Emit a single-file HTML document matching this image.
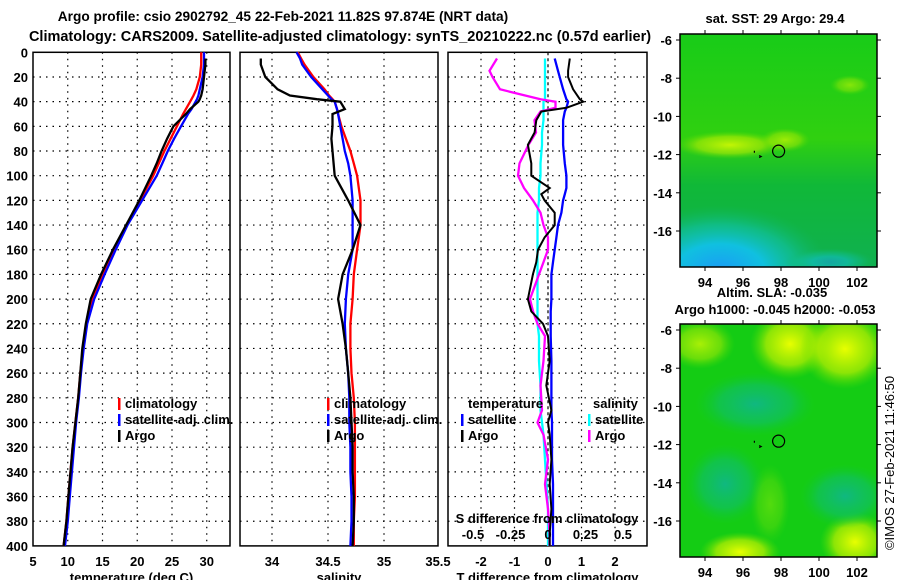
<!DOCTYPE html>
<html><head><meta charset="utf-8">
<style>
body{margin:0;background:#fff;}
svg text{font-family:"Liberation Sans",Arial,sans-serif;font-weight:bold;fill:#000;}
svg text.normal{font-weight:normal;}
</style></head>
<body>
<svg id="chart" width="900" height="580" viewBox="0 0 900 580" xmlns="http://www.w3.org/2000/svg">
<defs>
<radialGradient id="sstCyan" cx="0.5" cy="0.5" r="0.5">
<stop offset="0" stop-color="#1a9cf5"/><stop offset="0.4" stop-color="#10c0e0"/><stop offset="0.7" stop-color="#10c0a0" stop-opacity="0.7"/><stop offset="1" stop-color="#10b860" stop-opacity="0"/>
</radialGradient>
<linearGradient id="sstBase" x1="0" y1="0" x2="0" y2="1">
<stop offset="0" stop-color="#18cc18"/><stop offset="0.45" stop-color="#30d010"/><stop offset="0.65" stop-color="#10b838"/><stop offset="1" stop-color="#10b050"/>
</linearGradient>
<radialGradient id="yel" cx="0.5" cy="0.5" r="0.5"><stop offset="0" stop-color="#e8ff00"/><stop offset="0.6" stop-color="#c0f000" stop-opacity="0.7"/><stop offset="1" stop-color="#60e000" stop-opacity="0"/></radialGradient>
<radialGradient id="teal" cx="0.5" cy="0.5" r="0.5"><stop offset="0" stop-color="#10b880"/><stop offset="0.6" stop-color="#10c060" stop-opacity="0.7"/><stop offset="1" stop-color="#10c830" stop-opacity="0"/></radialGradient>
</defs>
<g id="root"></g>
</svg>
<script>
// ---- data ----
const depths = [0,5,10,20,30,35,38,40,46,50,60,70,80,90,100,120,140,160,180,200,220,240,260,280,300,320,340,360,380,400];
const tempArgo = [null,29.8,29.8,29.6,29.4,29.2,29.0,28.8,27.6,27.0,25.2,24.3,23.5,22.8,22.0,20.3,18.4,16.5,14.8,13.3,12.6,12.1,11.8,11.5,11.1,10.7,10.4,10.1,9.8,9.4];
const tempClim = [29.2,29.2,29.2,29.0,28.5,28.1,27.8,27.6,27.0,26.6,25.7,24.8,23.9,23.1,22.3,20.4,18.5,16.7,15.0,13.5,12.7,12.2,11.8,11.5,11.1,10.7,10.4,10.1,9.8,9.4];
const tempSat = [29.6,29.6,29.6,29.4,29.0,28.8,28.6,28.4,27.8,27.3,26.3,25.3,24.4,23.6,22.8,20.7,18.6,16.9,15.3,13.8,12.8,12.3,11.9,11.6,11.2,10.9,10.6,10.3,10.0,9.6];
const salArgo = [null,33.90,33.90,33.94,34.05,34.16,34.40,34.61,34.65,34.54,34.54,34.53,34.54,34.55,34.56,34.68,34.79,34.72,34.63,34.59,34.63,34.66,34.68,34.70,34.71,34.72,34.72,34.73,34.73,34.72];
const salClim = [34.23,34.26,34.29,34.37,34.47,34.51,34.54,34.56,34.58,34.59,34.62,34.66,34.70,34.73,34.76,34.79,34.79,34.76,34.73,34.72,34.70,34.70,34.71,34.73,34.74,34.74,34.74,34.74,34.73,34.73];
const salSat = [34.22,34.25,34.27,34.35,34.45,34.50,34.53,34.56,34.58,34.59,34.61,34.63,34.65,34.68,34.70,34.72,34.72,34.72,34.68,34.66,34.65,34.66,34.68,34.69,34.69,34.70,34.70,34.71,34.71,34.70];
const diffDepths = [5,15,20,30,38,40,45,48,55,65,75,90,100,110,115,120,130,140,150,160,170,180,200,210,220,230,250,270,290,300,310,330,350,370,390,400];
const dTArgo = [0.65,0.6,0.6,0.75,0.95,1.05,0.55,-0.2,-0.35,-0.4,-0.6,-0.5,-0.5,0.05,-0.2,-0.1,0.2,0.2,-0.1,-0.3,-0.35,-0.45,-0.6,-0.5,-0.15,0.0,0.05,-0.05,0.1,0.0,0.05,0.1,0.05,0.1,0.05,0.05];
const dTSat = [0.2,0.3,0.35,0.45,0.55,0.6,0.55,0.5,0.45,0.45,0.45,0.5,0.55,0.55,0.5,0.45,0.4,0.3,0.25,0.2,0.15,0.1,0.1,0.08,0.08,0.08,0.1,0.1,0.1,0.12,0.12,0.12,0.15,0.15,0.15,0.15];
const dSArgo = [-0.34,-0.39,-0.37,-0.32,-0.05,0.05,0.05,-0.05,-0.09,-0.08,-0.13,-0.19,-0.2,-0.16,-0.13,-0.1,-0.05,-0.03,0,0,-0.03,-0.06,-0.12,-0.1,-0.07,-0.02,-0.03,-0.05,-0.04,-0.07,-0.03,0,-0.02,0,0.01,0.01];
const dSSat = [-0.02,-0.02,-0.02,-0.02,-0.02,-0.03,-0.03,-0.03,-0.03,-0.04,-0.04,-0.05,-0.05,-0.06,-0.06,-0.06,-0.07,-0.07,-0.07,-0.07,-0.07,-0.07,-0.07,-0.07,-0.07,-0.06,-0.06,-0.05,-0.05,-0.04,-0.03,-0.02,-0.01,0,0,0];
const depthTicks = [0,20,40,60,80,100,120,140,160,180,200,220,240,260,280,300,320,340,360,380,400];
const tempTicks = [5,10,15,20,25,30];
const salTicks = [34,34.5,35,35.5];
const tdTicks = [-2,-1,0,1,2];
const sdTicks = [-0.5,-0.25,0,0.25,0.5];
const latTicks = [-6,-8,-10,-12,-14,-16];
const lonTicks = [94,96,98,100,102];
const argoLon = 97.874, argoLat = -11.82;

// ---- scales ----
const NS="http://www.w3.org/2000/svg";
const root=document.getElementById('root');
const yD=d=>52.3+d*1.234;
const xT=t=>33+(t-5)*6.95;
const xS=s=>328+(s-34.5)*112;
const xdT=v=>548+v*33.5;
const xdS=v=>548+v*150;
function el(tag,attrs,parent){const e=document.createElementNS(NS,tag);for(const k in attrs)e.setAttribute(k,attrs[k]);(parent||root).appendChild(e);return e;}
function txt(x,y,s,anchor,size,parent){const t=el('text',{x:x,y:y,'text-anchor':anchor||'middle','font-size':size||13},parent);t.textContent=s;return t;}

// titles
let t1=txt(283,21,'Argo profile: csio 2902792_45 22-Feb-2021 11.82S 97.874E (NRT data)','middle',13.7);


let t2=txt(340,41,'Climatology: CARS2009. Satellite-adjusted climatology: synTS_20210222.nc (0.57d earlier)','middle',14.5);



function line(xs,ys,color,name,parent,w){
  let d='';let started=false;
  for(let i=0;i<xs.length;i++){if(xs[i]==null)continue;d+=(started?'L':'M')+xs[i].toFixed(1)+' '+ys[i].toFixed(1);started=true;}
  const p=el('path',{d:d,fill:'none',stroke:color,'stroke-width':w||2.3,'stroke-linejoin':'miter'},parent);
  
  
  return p;
}

function panel(x0,x1,name,vticks,xf,tickLabels,title,zeroDash){
  const g=el('g',{});
  
  
  depthTicks.forEach(d=>{if(d>0&&d<400)el('line',{x1:x0,x2:x1,y1:yD(d),y2:yD(d),stroke:'#000','stroke-width':1.2,'stroke-dasharray':'1.5 5'},g);});
  vticks.forEach(v=>{const x=xf(v);if(x>x0+2&&x<x1-2)el('line',{x1:x,x2:x,y1:yD(0),y2:yD(400),stroke:'#000','stroke-width':1.2,'stroke-dasharray':(zeroDash&&v===0)?'3 3':'1.5 5'},g);});
  el('rect',{x:x0,y:yD(0),width:x1-x0,height:yD(400)-yD(0),fill:'none',stroke:'#000','stroke-width':1.5},g);
  tickLabels.forEach(v=>{const l=txt(xf(v),566,String(v),'middle',13,g);});
  const tt=txt((x0+x1)/2,582,title,'middle',13,g);
  
  
  return g;
}

depthTicks.forEach(d=>{const l=txt(28,yD(d)+5,String(d),'end',13);});

const g1=panel(33,230,'temperature-panel',tempTicks,xT,tempTicks,'temperature (deg C)');
line(tempClim.map(xT),depths.map(yD),'#ff0000','temp-climatology-line',g1);
line(tempSat.map(xT),depths.map(yD),'#0000ff','temp-satellite-line',g1);
line(tempArgo.map(v=>v==null?null:xT(v)),depths.map(yD),'#000000','temp-argo-line',g1);

const g2=panel(240,438,'salinity-panel',salTicks,xS,[34,34.5,35],'salinity');
const l355=txt(438,566,'35.5','middle',13,g2);


line(salClim.map(xS),depths.map(yD),'#ff0000','sal-climatology-line',g2);
line(salSat.map(xS),depths.map(yD),'#0000ff','sal-satellite-line',g2);
line(salArgo.map(v=>v==null?null:xS(v)),depths.map(yD),'#000000','sal-argo-line',g2);

const g3=panel(448,647,'difference-panel',tdTicks,xdT,tdTicks,'T difference from climatology',true);
line(dTSat.map(xdT),diffDepths.map(yD),'#0000ff','dT-satellite-line',g3);
line(dSSat.map(xdS),diffDepths.map(yD),'#00ffff','dS-satellite-line',g3);
line(dSArgo.map(xdS),diffDepths.map(yD),'#ff00ff','dS-argo-line',g3);
line(dTArgo.map(xdT),diffDepths.map(yD),'#000000','dT-argo-line',g3,2);
const sdt=txt(547,523,'S difference from climatology','middle',13,g3);


sdTicks.forEach(v=>{const l=txt(xdS(v),539,String(v),'middle',13,g3);});

function legendEntry(x,y,color,label,name){
  const g=el('g',{});
  
  
  el('rect',{x:x,y:y-10,width:2.5,height:12,fill:color},g);
  txt(x+7,y,label,'start',13,g);
}
[[118,'p1'],[327,'p2']].forEach(([x,p])=>{
  legendEntry(x,408,'#ff0000','climatology','legend-'+p+'-climatology');
  legendEntry(x,424,'#0000ff','satellite-adj. clim.','legend-'+p+'-satellite');
  legendEntry(x,440,'#000000','Argo','legend-'+p+'-argo');
});
const lt=txt(468,408,'temperature','start',13);
const ls=txt(593,408,'salinity','start',13);
legendEntry(461,424,'#0000ff','satellite','legend-t-satellite');
legendEntry(461,440,'#000000','Argo','legend-t-argo');
legendEntry(588,424,'#00ffff','satellite','legend-s-satellite');
legendEntry(588,440,'#ff00ff','Argo','legend-s-argo');

// ---- maps ----
function map(top,name,kind){
  const x0=680,x1=877,y1=top+233;
  const lonX=l=>705+(l-94)*19;
  const latY=l=>top+6+(-6-l)*19.1;
  const g=el('g',{});
  
  
  const cp=el('clipPath',{id:'cp'+top},g);
  el('rect',{x:x0,y:top,width:x1-x0,height:y1-top},cp);
  const ig=el('g',{'clip-path':'url(#cp'+top+')'},g);
  if(kind==='sst'){
    el('rect',{x:x0,y:top,width:x1-x0,height:y1-top,fill:'url(#sstBase)'},ig);
    el('ellipse',{cx:730,cy:145,rx:55,ry:14,fill:'url(#yel)',opacity:0.8},ig);
    el('ellipse',{cx:785,cy:140,rx:25,ry:12,fill:'url(#yel)',opacity:0.6},ig);
    el('ellipse',{cx:850,cy:85,rx:20,ry:10,fill:'url(#yel)',opacity:0.5},ig);
    el('ellipse',{cx:720,cy:270,rx:110,ry:65,fill:'url(#sstCyan)'},ig);
    el('ellipse',{cx:830,cy:262,rx:45,ry:14,fill:'url(#sstCyan)',opacity:0.5},ig);
  } else {
    el('rect',{x:x0,y:top,width:x1-x0,height:y1-top,fill:'#14cc14'},ig);
    el('ellipse',{cx:790,cy:top+20,rx:40,ry:35,fill:'url(#yel)'},ig);
    el('ellipse',{cx:845,cy:top+25,rx:45,ry:40,fill:'url(#yel)'},ig);
    el('ellipse',{cx:700,cy:top+20,rx:35,ry:25,fill:'url(#yel)',opacity:0.7},ig);
    el('ellipse',{cx:740,cy:y1-5,rx:40,ry:20,fill:'url(#yel)'},ig);
    el('ellipse',{cx:855,cy:y1-15,rx:35,ry:30,fill:'url(#yel)'},ig);
    el('ellipse',{cx:755,cy:top+80,rx:60,ry:32,fill:'url(#teal)'},ig);
    el('ellipse',{cx:845,cy:top+172,rx:45,ry:32,fill:'url(#teal)'},ig);
    el('ellipse',{cx:725,cy:top+160,rx:40,ry:40,fill:'url(#teal)'},ig);
    el('ellipse',{cx:770,cy:top+180,rx:20,ry:40,fill:'url(#yel)',opacity:0.3},ig);
  }
  el('rect',{x:x0,y:top,width:x1-x0,height:y1-top,fill:'none',stroke:'#000','stroke-width':1.5},g);
  latTicks.forEach(l=>{const y=latY(l);el('line',{x1:x0-4,x2:x0,y1:y,y2:y,stroke:'#000'},g);el('line',{x1:x1,x2:x1+4,y1:y,y2:y,stroke:'#000'},g);const t=txt(672,y+5,String(l),'end',13,g);});
  lonTicks.forEach(l=>{const x=lonX(l);el('line',{x1:x,x2:x,y1:top-4,y2:top,stroke:'#000'},g);el('line',{x1:x,x2:x,y1:y1,y2:y1+4,stroke:'#000'},g);const t=txt(x,y1+20,String(l),'middle',13,g);});
  const c=el('circle',{cx:lonX(argoLon),cy:latY(argoLat),r:6,fill:'none',stroke:'#000','stroke-width':1.2},g);
  
  
  el('path',{d:`M${lonX(96.6)} ${latY(-11.8)}v2 M${lonX(96.85)} ${latY(-12.05)}l2 1l-2 1`,stroke:'#000',fill:'none','stroke-width':1.2},g);
  return g;
}
map(34,'sst-map','sst');
const mt1=txt(775,23,'sat. SST: 29 Argo: 29.4','middle',13);


map(324,'sla-map','sla');
const mt2=txt(772,297,'Altim. SLA: -0.035','middle',13);


const mt3=txt(775,314,'Argo h1000: -0.045 h2000: -0.053','middle',13);


const cr=txt(0,0,'©IMOS 27-Feb-2021 11:46:50','middle',13);
cr.setAttribute('transform','translate(894,463) rotate(-90)');
cr.setAttribute('class','normal');


</script>
</body></html>
